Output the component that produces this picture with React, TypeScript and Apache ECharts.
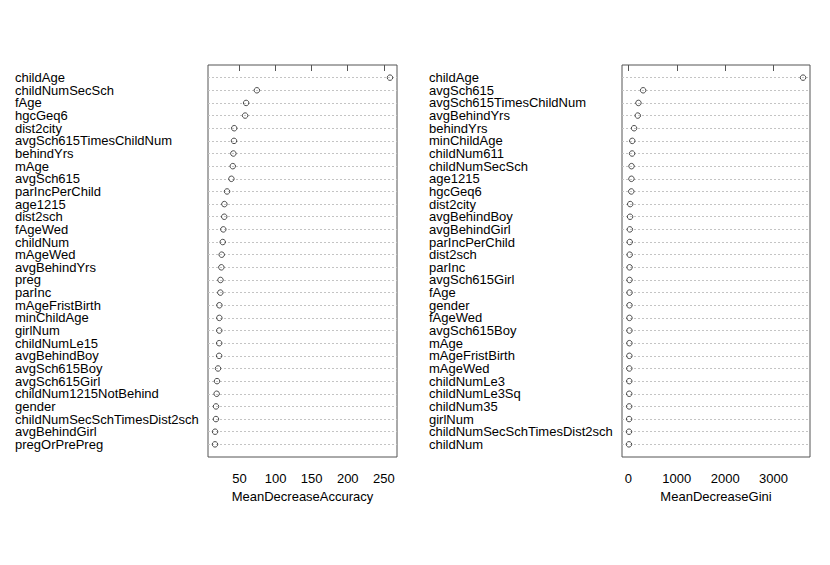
import React, { useEffect, useRef } from "react";
import * as echarts from "echarts";

const accNames = [
  "childAge", "childNumSecSch", "fAge", "hgcGeq6", "dist2city",
  "avgSch615TimesChildNum", "behindYrs", "mAge", "avgSch615", "parIncPerChild",
  "age1215", "dist2sch", "fAgeWed", "childNum", "mAgeWed",
  "avgBehindYrs", "preg", "parInc", "mAgeFristBirth", "minChildAge",
  "girlNum", "childNumLe15", "avgBehindBoy", "avgSch615Boy", "avgSch615Girl",
  "childNum1215NotBehind", "gender", "childNumSecSchTimesDist2sch", "avgBehindGirl", "pregOrPrePreg",
];
const accValues = [
  258.5, 74.2, 59.3, 57.9, 42.8,
  42.5, 41.6, 40.8, 38.9, 32.9,
  29.2, 29.0, 27.7, 26.9, 25.5,
  25.0, 23.8, 23.6, 22.3, 22.2,
  22.1, 22.0, 21.9, 20.4, 19.0,
  18.5, 17.6, 17.5, 16.3, 16.2,
];
const accTicks = [50, 100, 150, 200, 250];

const giniNames = [
  "childAge", "avgSch615", "avgSch615TimesChildNum", "avgBehindYrs", "behindYrs",
  "minChildAge", "childNum611", "childNumSecSch", "age1215", "hgcGeq6",
  "dist2city", "avgBehindBoy", "avgBehindGirl", "parIncPerChild", "dist2sch",
  "parInc", "avgSch615Girl", "fAge", "gender", "fAgeWed",
  "avgSch615Boy", "mAge", "mAgeFristBirth", "mAgeWed", "childNumLe3",
  "childNumLe3Sq", "childNum35", "girlNum", "childNumSecSchTimesDist2sch", "childNum",
];
const giniValues = [
  3610, 305, 208, 194, 118,
  80, 77, 65, 63, 60,
  38, 35, 30, 28, 27,
  25, 24, 24, 23, 22,
  22, 21, 20, 19, 18,
  17, 16, 15, 13, 12,
];
const giniTicks = [0, 1000, 2000, 3000];

const FONT = "Liberation Sans, Arial, sans-serif";

function xlim(vals: number[]) {
  const mn = Math.min(...vals);
  const mx = Math.max(...vals);
  const r = mx - mn;
  return [mn - 0.04 * r, mx + 0.04 * r];
}

export default function App() {
  const ref = useRef<HTMLDivElement>(null);
  useEffect(() => {
    document.body.style.margin = "0";
    if (!ref.current) return;
    const chart = echarts.init(ref.current, null, { renderer: "svg" });
    const la = xlim(accValues);
    const lg = xlim(giniValues);
    const n = accNames.length;

    const yAxisFor = (gridIndex: number, names: string[]) => ({
      type: "value" as const,
      gridIndex,
      min: 0,
      max: n + 1,
      interval: 1,
      inverse: true,
      axisLine: { show: false },
      axisTick: { show: false },
      axisLabel: {
        show: true,
        align: "left" as const,
        margin: 193,
        color: "#000",
        fontSize: 13,
        lineHeight: 12,
        fontFamily: FONT,
        formatter: (v: number) => names[v - 1] ?? "",
      },
      splitLine: {
        show: true,
        showMinLine: false,
        showMaxLine: false,
        lineStyle: { type: [2, 2], color: "#c4c4c4", width: 1 },
      },
    });

    const xAxisFor = (gridIndex: number, lim: number[], ticks: number[], name: string) => ({
      type: "value" as const,
      gridIndex,
      min: lim[0],
      max: lim[1],
      axisLine: { show: false },
      axisTick: {
        show: true,
        length: 6,
        customValues: ticks,
        lineStyle: { color: "#555", width: 1 },
      },
      axisLabel: {
        show: true,
        customValues: ticks,
        margin: 15,
        color: "#000",
        fontSize: 13,
        fontFamily: FONT,
        formatter: (v: number) => String(v),
      },
      splitLine: { show: false },
      name,
      nameLocation: "middle" as const,
      nameGap: 33,
      nameTextStyle: { color: "#000", fontSize: 13, fontFamily: FONT },
    });

    chart.setOption({
      animation: false,
      backgroundColor: "#fff",
      grid: [
        { left: 208, top: 65, width: 189, height: 392, show: true, borderColor: "#555", borderWidth: 1, backgroundColor: "transparent" },
        { left: 622, top: 65, width: 188, height: 392, show: true, borderColor: "#555", borderWidth: 1, backgroundColor: "transparent" },
      ],
      xAxis: [
        xAxisFor(0, la, accTicks, "MeanDecreaseAccuracy"),
        xAxisFor(1, lg, giniTicks, "MeanDecreaseGini"),
      ],
      yAxis: [yAxisFor(0, accNames), yAxisFor(1, giniNames)],
      series: [
        {
          type: "scatter",
          xAxisIndex: 0,
          yAxisIndex: 0,
          symbol: "circle",
          symbolSize: 5.5,
          itemStyle: { color: "rgba(0,0,0,0)", borderColor: "#222", borderWidth: 1 },
          data: accValues.map((v, i) => [v, i + 1]),
        },
        {
          type: "scatter",
          xAxisIndex: 1,
          yAxisIndex: 1,
          symbol: "circle",
          symbolSize: 5.5,
          itemStyle: { color: "rgba(0,0,0,0)", borderColor: "#222", borderWidth: 1 },
          data: giniValues.map((v, i) => [v, i + 1]),
        },
      ],
    });
    return () => chart.dispose();
  }, []);
  return <div ref={ref} style={{ width: 830, height: 565 }} />;
}
